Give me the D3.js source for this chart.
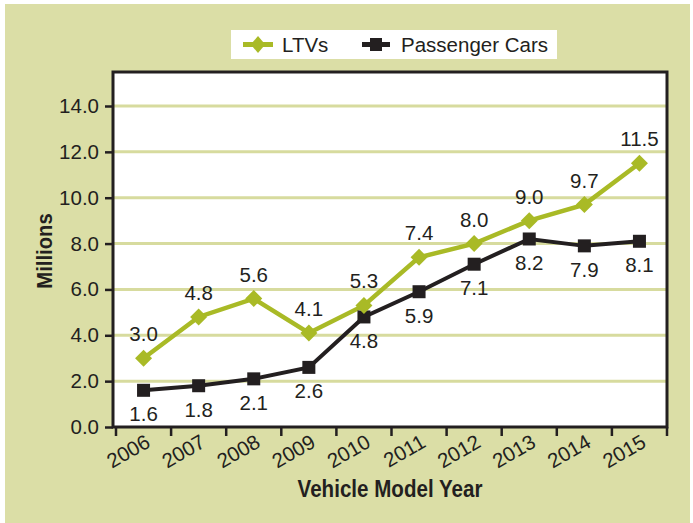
<!DOCTYPE html>
<html>
<head>
<meta charset="utf-8">
<script src="https://cdn.jsdelivr.net/npm/d3@7"></script>
<style>
    html, body { margin: 0; padding: 0; background: #ffffff; }
    svg { display: block; }
    text { font-family: "Liberation Sans", Arial, sans-serif; fill: #231f20; }
</style>
</head>
<body>
<div id="chart"></div>
<script>
// chart values
var years = ['2006', '2007', '2008', '2009', '2010', '2011', '2012', '2013', '2014', '2015'];
var ltvs = [3.0, 4.8, 5.6, 4.1, 5.3, 7.4, 8.0, 9.0, 9.7, 11.5];
var passengerCars = [1.6, 1.8, 2.1, 2.6, 4.8, 5.9, 7.1, 8.2, 7.9, 8.1];
var yTicks = [0, 2, 4, 6, 8, 10, 12, 14];
var seriesNames = ['LTVs', 'Passenger Cars'];

var view = { width: 693, height: 523 };
var frame = { left: 113, right: 667, top: 72, bottom: 427 };
var green = '#a9ba26', dark = '#231f20', grid = '#d7db9e', tan = '#dbdea6';

var svg = d3.select('#chart')
    .append('svg')
    .attr('width', view.width)
    .attr('height', view.height);

// tan panel inside a thin white margin
svg.append('rect')
    .attr('x', 5).attr('y', 4)
    .attr('width', view.width - 8).attr('height', view.height - 4)
    .style('fill', tan);

var x = d3.scaleBand().domain(years).range([116, frame.right]);
var y = d3.scaleLinear().domain([0, 14]).range([frame.bottom, 106]);
var cx = function(i) { return x(years[i]) + x.bandwidth() / 2; };

// plot area
svg.append('rect')
    .attr('x', frame.left).attr('y', frame.top)
    .attr('width', frame.right - frame.left).attr('height', frame.bottom - frame.top)
    .style('fill', '#fff');

svg.append('g').selectAll('line')
    .data(yTicks.filter(function(d) { return d > 0; }))
    .enter().append('line')
    .attr('x1', frame.left).attr('x2', frame.right)
    .attr('y1', function(d) { return y(d); }).attr('y2', function(d) { return y(d); })
    .style('stroke', grid).style('stroke-width', 3);

svg.append('rect')
    .attr('x', frame.left).attr('y', frame.top)
    .attr('width', frame.right - frame.left).attr('height', frame.bottom - frame.top)
    .style('fill', 'none').style('stroke', dark).style('stroke-width', 3);

// y axis
var yAxis = svg.append('g')
    .attr('transform', 'translate(' + frame.left + ',0)')
    .call(d3.axisLeft(y).tickValues(yTicks).tickFormat(d3.format('.1f')).tickSize(8).tickPadding(6));
yAxis.select('.domain').remove();
yAxis.selectAll('.tick line').style('stroke', dark).style('stroke-width', 2.5);
yAxis.selectAll('.tick text').style('font-size', '20.5px').style('fill', dark).attr('font-family', null);

// x axis: ticks on the band boundaries, labels slanted
var bounds = years.map(function(d) { return x(d); }).concat([frame.right]);
svg.append('g').selectAll('line')
    .data(bounds)
    .enter().append('line')
    .attr('x1', function(d) { return d; }).attr('x2', function(d) { return d; })
    .attr('y1', frame.bottom).attr('y2', frame.bottom + 9)
    .style('stroke', dark).style('stroke-width', 2.5);

svg.append('g').selectAll('text')
    .data(years)
    .enter().append('text')
    .attr('transform', function(d, i) { return 'translate(' + (cx(i) + 8) + ',446) rotate(-30)'; })
    .attr('text-anchor', 'end')
    .style('font-size', '20.5px')
    .text(function(d) { return d; });

// axis titles (squeezed to look like the condensed face)
svg.append('text')
    .attr('transform', 'translate(' + ((frame.left + frame.right) / 2) + ',497) scale(0.84,1)')
    .attr('text-anchor', 'middle')
    .style('font-weight', 'bold')
    .style('font-size', '24.5px')
    .text('Vehicle Model Year');

svg.append('text')
    .attr('transform', 'translate(52,251) rotate(-90) scale(0.92,1)')
    .attr('text-anchor', 'middle')
    .style('font-weight', 'bold')
    .style('font-size', '22px')
    .text('Millions');

// series
var line = d3.line()
    .x(function(d, i) { return cx(i); })
    .y(function(d) { return y(d); });

svg.append('path').datum(passengerCars)
    .attr('d', line)
    .style('fill', 'none').style('stroke', dark).style('stroke-width', 4);

svg.append('path').datum(ltvs)
    .attr('d', line)
    .style('fill', 'none').style('stroke', green).style('stroke-width', 4.5);

var diamond = function(s) { return 'M0,' + (-s) + 'L' + s + ',0L0,' + s + 'L' + (-s) + ',0Z'; };

svg.append('g').selectAll('rect')
    .data(passengerCars)
    .enter().append('rect')
    .attr('x', function(d, i) { return cx(i) - 6.5; })
    .attr('y', function(d) { return y(d) - 6.5; })
    .attr('width', 13).attr('height', 13)
    .style('fill', dark);

svg.append('g').selectAll('path')
    .data(ltvs)
    .enter().append('path')
    .attr('transform', function(d, i) { return 'translate(' + cx(i) + ',' + y(d) + ')'; })
    .attr('d', diamond(8.5))
    .style('fill', green);

// value labels
svg.append('g').selectAll('text')
    .data(ltvs)
    .enter().append('text')
    .attr('x', function(d, i) { return cx(i); })
    .attr('y', function(d) { return y(d) - 17; })
    .attr('text-anchor', 'middle')
    .style('font-size', '20.5px')
    .text(function(d) { return d.toFixed(1); });

svg.append('g').selectAll('text')
    .data(passengerCars)
    .enter().append('text')
    .attr('x', function(d, i) { return cx(i); })
    .attr('y', function(d) { return y(d) + 31; })
    .attr('text-anchor', 'middle')
    .style('font-size', '20.5px')
    .text(function(d) { return d.toFixed(1); });

// legend
var legend = svg.append('g');
legend.append('rect')
    .attr('x', 231).attr('y', 30).attr('width', 326).attr('height', 29)
    .style('fill', '#fff');

legend.append('line')
    .attr('x1', 243).attr('x2', 273).attr('y1', 44.5).attr('y2', 44.5)
    .style('stroke', green).style('stroke-width', 5);
legend.append('path')
    .attr('transform', 'translate(258,44.5) scale(0.85,1)')
    .attr('d', diamond(8.5))
    .style('fill', green);
legend.append('text')
    .attr('x', 282).attr('y', 52)
    .style('font-size', '20.5px')
    .text(seriesNames[0]);

legend.append('line')
    .attr('x1', 362).attr('x2', 390).attr('y1', 44.5).attr('y2', 44.5)
    .style('stroke', dark).style('stroke-width', 5);
legend.append('rect')
    .attr('x', 370).attr('y', 38).attr('width', 12).attr('height', 13)
    .style('fill', dark);
legend.append('text')
    .attr('x', 401).attr('y', 52)
    .style('font-size', '20.5px')
    .text(seriesNames[1]);
</script>
</body>
</html>
